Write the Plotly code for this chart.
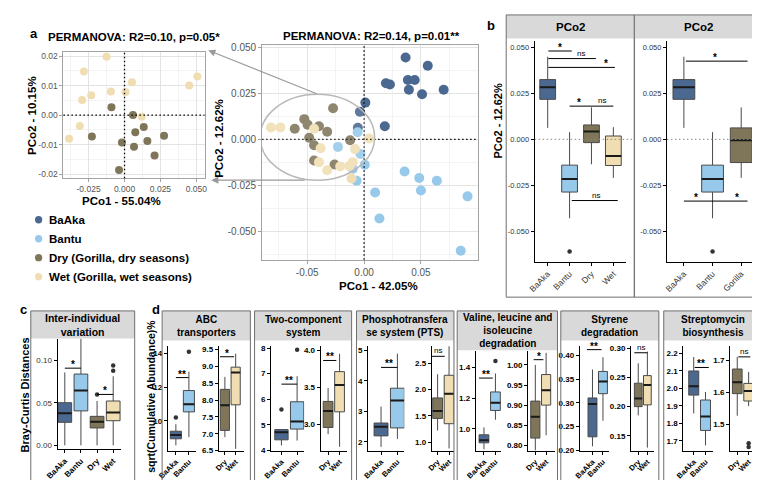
import plotly.graph_objects as go

W, H = 760, 480
FONT = "Liberation Sans, Arial, Helvetica, sans-serif"
BOX_LINE = "#4a4a4a"
COL = {"BaAka": "#4b6890", "Bantu": "#96c9ea", "Dry": "#7f765a",
       "Wet": "#f0deb2", "Gorilla": "#7f765a"}

# ---------------- data ----------------
legend_groups = ["BaAka", "Bantu", "Dry", "Wet"]
legend_labels = ["BaAka", "Bantu", "Dry (Gorilla, dry seasons)", "Wet (Gorilla, wet seasons)"]

# panel a (left): gorilla-only PCoA
gor_dry_pco1 = [-0.0091, 0.0059, 0.0134, 0.0075, 0.0275, -0.0227, -0.0018, 0.0159, 0.0066, 0.0209, -0.0038]
gor_dry_pco2 = [0.0027, 0.0000, -0.0040, -0.0058, -0.0070, -0.0073, -0.0093, -0.0088, -0.0107, -0.0137, -0.0186]
gor_wet_pco1 = [-0.0125, -0.0283, 0.0052, -0.0232, -0.0295, -0.0095, 0.0007, 0.0450, 0.0507, 0.0120, -0.0311, -0.0386]
gor_wet_pco2 = [0.0198, 0.0148, 0.0111, 0.0067, 0.0051, 0.0080, 0.0078, 0.0100, 0.0131, -0.0006, -0.0037, -0.0080]

# panel a (right): all samples PCoA
all_baaka_pco1 = [0.0365, 0.056, 0.0192, 0.0227, 0.0385, 0.0445, 0.0394, 0.051, 0.070, 0.0011, -0.0037, -0.0055, 0.0182]
all_baaka_pco2 = [0.0445, 0.040, 0.0305, 0.0298, 0.0323, 0.0323, 0.027, 0.0245, 0.027, 0.020, 0.015, 0.0063, 0.0071]
all_bantu_pco1 = [-0.0057, -0.023, -0.0032, 0.0006, -0.010, -0.0066, 0.0097, 0.0135, 0.0356, 0.0485, 0.050, 0.064, 0.091, 0.085]
all_bantu_pco2 = [0.0039, -0.0041, -0.008, -0.0138, -0.016, -0.0225, -0.0289, -0.043, -0.0175, -0.021, -0.0278, -0.0225, -0.031, -0.0606]
all_dry_pco1 = [-0.0273, -0.0526, -0.0497, -0.061, -0.0397, -0.0325, -0.0483, -0.044, -0.0123, -0.044, -0.026]
all_dry_pco2 = [0.0169, 0.011, 0.008, 0.0058, 0.0071, 0.0041, 0.0009, -0.0032, -0.0005, -0.0115, -0.0137]
all_wet_pco1 = [-0.0819, -0.0736, -0.044, -0.0382, 0.0043, -0.008, -0.0397, -0.0325, -0.021, -0.010, -0.0129, -0.011]
all_wet_pco2 = [0.0065, 0.0065, 0.0058, -0.0048, 0.0005, -0.0053, -0.0124, -0.0168, -0.0147, -0.0124, -0.0145, -0.0213]

# panel b (left facet): PCo2 by group
b1_groups = ["BaAka", "Bantu", "Dry", "Wet"]
b1_lo = [0.0062, -0.0428, -0.0135, -0.0209]
b1_q1 = [0.0217, -0.0286, -0.0018, -0.0142]
b1_med = [0.0283, -0.0215, 0.0043, -0.0091]
b1_q3 = [0.0324, -0.0140, 0.0078, 0.0018]
b1_hi = [0.0448, 0.0039, 0.0173, 0.0066]
b1_out = [[], [-0.0609], [], []]
b1_sig = [(1.03, 2.1, 0.0479, "*", 1.57), (1.03, 3.2, 0.0438, "ns", 2.5), (1.03, 4.07, 0.039, "*", 3.68),
          (2.0, 4.0, 0.0180, "*", 2.42), (2.0, 4.0, 0.0180, "ns", 3.5), (2.1, 4.2, -0.0332, "ns", 3.2)]

# panel b (right facet)
b2_groups = ["BaAka", "Bantu", "Gorilla"]
b2_lo = [0.0062, -0.0428, -0.0209]
b2_q1 = [0.0217, -0.0286, -0.0126]
b2_med = [0.0283, -0.0215, -0.0005]
b2_q3 = [0.0324, -0.0140, 0.0062]
b2_hi = [0.0448, 0.0039, 0.0173]
b2_out = [[], [-0.0609], []]
b2_sig = [(1.07, 3.22, 0.0424, "*", 2.09), (1.0, 3.22, -0.0335, "*", 1.43), (1.0, 3.22, -0.0335, "*", 2.86)]

# panel c: inter-individual Bray-Curtis distances
c_groups = ["BaAka", "Bantu", "Dry", "Wet"]
c_lo = [0.0, 0.0, 0.0, 0.0]
c_q1 = [0.027, 0.0404, 0.0204, 0.0289]
c_med = [0.0377, 0.0643, 0.0277, 0.0385]
c_q3 = [0.050, 0.0836, 0.034, 0.052]
c_hi = [0.0855, 0.135, 0.052, 0.081]
c_out = [[], [], [0.0597], [0.0874, 0.0935]]
c_sig = [(1, 2, 0.0905, "*", 1.5), (3, 4, 0.0597, "*", 3.5)]

# panel d: KEGG pathways, sqrt(cumulative abundance)
d_pathways = ["ABC<br>transporters", "Two-component<br>system", "Phosphotransfera<br>se system (PTS)",
              "Valine, leucine and<br>isoleucine<br>degradation", "Styrene<br>degradation",
              "Streptomycin<br>biosynthesis"]
d_hum_groups = ["BaAka", "Bantu"]
d_gor_groups = ["Dry", "Wet"]
d_hum_lo = [[8.54, 9.03], [4.19, 4.38], [1.84, 2.10], [0.868, 1.06], [0.208, 0.262], [1.857, 1.675]]
d_hum_q1 = [[8.93, 10.53], [4.41, 4.83], [2.20, 2.46], [0.910, 1.12], [0.228, 0.319], [1.962, 1.76]]
d_hum_med = [[9.16, 10.98], [4.71, 5.13], [2.50, 3.36], [0.926, 1.17], [0.297, 0.345], [2.013, 1.84]]
d_hum_q3 = [[9.38, 11.80], [4.81, 5.90], [2.62, 3.76], [0.962, 1.24], [0.310, 0.366], [2.10, 1.934]]
d_hum_hi = [[9.80, 12.92], [4.81, 6.90], [3.16, 4.89], [1.01, 1.36], [0.370, 0.396], [2.18, 1.98]]
d_hum_out = [[[10.2], [14.1]], [[5.6], [7.94]], [[], []], [[], [1.44]], [[], []], [[], []]]
d_gor_lo = [[6.90, 6.55], [2.87, 2.70], [1.22, 0.88], [0.787, 0.825], [0.185, 0.13], [1.526, 1.556]]
d_gor_q1 = [[7.10, 7.86], [2.96, 3.17], [1.45, 1.35], [0.818, 0.90], [0.200, 0.203], [1.595, 1.572]]
d_gor_med = [[7.85, 8.82], [3.18, 3.53], [1.59, 1.92], [0.871, 0.937], [0.214, 0.237], [1.631, 1.603]]
d_gor_q3 = [[8.32, 8.98], [3.31, 3.71], [1.84, 2.27], [0.91, 0.976], [0.240, 0.253], [1.672, 1.627]]
d_gor_hi = [[8.69, 9.38], [3.49, 3.95], [2.29, 2.85], [1.00, 1.03], [0.274, 0.294], [1.71, 1.663]]
d_gor_out = [[[], []], [[], []], [[], []], [[], []], [[], []], [[], [1.44, 1.428]]]
d_hum_sig = [(1.0, 1.98, 12.57, "**", 1.5), (1.0, 2.0, 6.59, "**", 1.5), (1.0, 2.0, 4.44, "**", 1.5),
             (0.57, 1.77, 1.33, "**", 1.15), (0.47, 1.87, 0.412, "**", 1.19), (1.08, 2.28, 2.12, "**", 1.64)]
d_gor_sig = [(0.55, 1.85, 9.29, "*", 1.18), (0.57, 1.72, 3.86, "**", 1.15), (0.34, 1.62, 2.63, "ns", 1.0),
             (0.85, 1.75, 1.013, "*", 1.3), (0.57, 2.0, 0.292, "ns", 1.25), (1.09, 2.15, 1.71, "ns", 1.63)]

# ---------------- helpers ----------------
traces, shapes, annots = [], [], []
layout = {}


def X(p):
    return p / W


def Y(p):
    return 1 - p / H


def ref(n, c):
    return c if n == 1 else f"{c}{n}"


def axkey(n, c):
    return f"{c}axis" if n == 1 else f"{c}axis{n}"


def set_axes(n, L, R, T, B, xr, yr, xkw, ykw):
    layout[axkey(n, "x")] = dict(domain=[L / W, R / W], range=xr, anchor=ref(n, "y"), **xkw)
    layout[axkey(n, "y")] = dict(domain=[1 - B / H, 1 - T / H], range=yr, anchor=ref(n, "x"), **ykw)


def fmt(vals, f):
    return [format(v, f) for v in vals]


def sc_axis(vals, f, minor_dtick, size):
    return dict(showline=True, mirror=True, linecolor="#a3a3a3", linewidth=1,
                showgrid=True, gridcolor="#e3e3e3", gridwidth=1,
                minor=dict(showgrid=True, gridcolor="#f3f3f3", dtick=minor_dtick, tick0=0),
                ticks="outside", ticklen=3, tickcolor="#a3a3a3", zeroline=False,
                tickmode="array", tickvals=vals, ticktext=fmt(vals, f),
                tickfont=dict(size=size, color="#555555", family=FONT))


def box_y(vals, f, size, bold, color="black"):
    return dict(showline=True, linecolor="black", linewidth=1, ticks="outside", ticklen=3,
                tickcolor="black", showgrid=False, zeroline=False, tickmode="array",
                tickvals=vals, ticktext=fmt(vals, f),
                tickfont=dict(size=size, color=color, family=FONT, weight="bold" if bold else "normal"))


def box_x(names, size, bold, color="black"):
    return dict(showline=True, linecolor="black", linewidth=1, ticks="outside", ticklen=3,
                tickcolor="black", showgrid=False, zeroline=False, tickmode="array",
                tickvals=list(range(1, len(names) + 1)), ticktext=names, tickangle=-45,
                tickfont=dict(size=size, color=color, family=FONT, weight="bold" if bold else "normal"))


def add_boxes(n, groups, lo, q1, med, q3, hi, out, width):
    mx, my, ox, oy = [], [], [], []
    for i, g in enumerate(groups):
        pos = i + 1
        traces.append(go.Box(x=[pos], lowerfence=[lo[i]], q1=[q1[i]], median=[med[i]], q3=[q3[i]],
                             upperfence=[hi[i]], width=width, fillcolor=COL[g], orientation="v",
                             line=dict(color=BOX_LINE, width=1), whiskerwidth=0, boxpoints=False,
                             showlegend=False, hoverinfo="skip",
                             xaxis=ref(n, "x"), yaxis=ref(n, "y")))
        mx += [pos - width / 2, pos + width / 2, None]
        my += [med[i], med[i], None]
        for v in out[i]:
            ox.append(pos)
            oy.append(v)
    traces.append(go.Scatter(x=mx, y=my, mode="lines", line=dict(color="#1a1a1a", width=2),
                             showlegend=False, hoverinfo="skip", xaxis=ref(n, "x"), yaxis=ref(n, "y")))
    if ox:
        traces.append(go.Scatter(x=ox, y=oy, mode="markers", marker=dict(color="#333333", size=4.5),
                                 showlegend=False, hoverinfo="skip", xaxis=ref(n, "x"), yaxis=ref(n, "y")))


def sig_label(n, lx, yv, label):
    star = label != "ns"
    annots.append(dict(text=label, xref=ref(n, "x"), yref=ref(n, "y"), x=lx, y=yv, showarrow=False,
                       yanchor="bottom", yshift=-4 if star else -1,
                       font=dict(size=10 if star else 8, color="black", family=FONT,
                                 weight="bold" if star else "normal")))


def add_sig(n, x0, x1, yv, label, lx):
    shapes.append(dict(type="line", xref=ref(n, "x"), yref=ref(n, "y"), x0=x0, x1=x1, y0=yv, y1=yv,
                       line=dict(color="black", width=1)))
    sig_label(n, lx, yv, label)


def text(t, x, y, size, bold=True, angle=0, xanchor="center", yanchor="middle", color="black"):
    annots.append(dict(text=t, x=X(x), y=Y(y), xref="paper", yref="paper", showarrow=False,
                       textangle=angle, xanchor=xanchor, yanchor=yanchor,
                       font=dict(size=size, color=color, family=FONT, weight="bold" if bold else "normal")))


def rect(L, T, R, B, fill=None, line=None):
    shapes.append(dict(type="rect", xref="paper", yref="paper", x0=X(L), x1=X(R), y0=Y(B), y1=Y(T),
                       fillcolor=fill or "rgba(0,0,0,0)",
                       line=dict(color=line or "rgba(0,0,0,0)", width=1 if line else 0), layer="above"))


DOT = "1.5px,2.5px"

# ---------------- panel a ----------------
set_axes(1, 44.3, 188.3, 41.7, 170, [-0.0425, 0.0557], [-0.0214, 0.0214],
         sc_axis([-0.025, 0.0, 0.025, 0.05], ".3f", 0.0125, 8.5),
         sc_axis([-0.02, -0.01, 0.0, 0.01, 0.02], ".2f", 0.005, 8.5))
set_axes(2, 247, 467, 35, 253, [-0.0897, 0.1], [-0.0655, 0.0511],
         sc_axis([-0.05, 0.0, 0.05], ".2f", 0.025, 10),
         sc_axis([-0.05, -0.025, 0.0, 0.025, 0.05], ".3f", 0.0125, 10))

for xs, ys, g in [(gor_dry_pco1, gor_dry_pco2, "Dry"), (gor_wet_pco1, gor_wet_pco2, "Wet")]:
    traces.append(go.Scatter(x=xs, y=ys, mode="markers", marker=dict(size=8, color=COL[g]),
                             showlegend=False, hoverinfo="skip", xaxis="x", yaxis="y"))
for xs, ys, g in [(all_baaka_pco1, all_baaka_pco2, "BaAka"), (all_bantu_pco1, all_bantu_pco2, "Bantu"),
                  (all_dry_pco1, all_dry_pco2, "Dry"), (all_wet_pco1, all_wet_pco2, "Wet")]:
    traces.append(go.Scatter(x=xs, y=ys, mode="markers", marker=dict(size=10, color=COL[g]),
                             showlegend=False, hoverinfo="skip", xaxis="x2", yaxis="y2"))

for n in (1, 2):
    shapes.append(dict(type="line", xref=ref(n, "x"), yref=f"{ref(n, 'y')} domain", x0=0, x1=0, y0=0, y1=1,
                       line=dict(color="black", width=1.3, dash=DOT)))
    shapes.append(dict(type="line", xref=f"{ref(n, 'x')} domain", yref=ref(n, "y"), x0=0, x1=1, y0=0, y1=0,
                       line=dict(color="black", width=1.3, dash=DOT)))
shapes.append(dict(type="circle", xref="x2", yref="y2", x0=-0.0914, x1=0.0092, y0=-0.0222, y1=0.0245,
                   line=dict(color="#b8b8b8", width=1.5), fillcolor="rgba(255,255,255,0.12)", layer="above"))
annots.append(dict(x=X(192), y=Y(40), xref="paper", yref="paper", text="", showarrow=True,
                   ax=110, ay=44, arrowhead=2, arrowsize=1.2, arrowwidth=1.2, arrowcolor="#9a9a9a"))
annots.append(dict(x=X(195), y=Y(172), xref="paper", yref="paper", text="", showarrow=True,
                   ax=95, ay=0, arrowhead=2, arrowsize=1.2, arrowwidth=1.2, arrowcolor="#9a9a9a"))

# manual legend (group colours + labels)
for i, (g, lab) in enumerate(zip(legend_groups, legend_labels)):
    yc = 212.3 + i * 19.3
    shapes.append(dict(type="circle", xref="paper", yref="paper", x0=X(15.3), x1=X(22.7),
                       y0=Y(yc + 3.7), y1=Y(yc - 3.7), fillcolor=COL[g], line=dict(width=0)))
    text(lab, 28, yc, 11.5, xanchor="left")

text("a", 14, 23, 13)
text("PERMANOVA: R2=0.10, p=0.05*", 116, 26, 11.5)
text("PERMANOVA: R2=0.14, p=0.01**", 359, 25, 11.5)
text("PCo1 - 55.04%", 104, 193, 11.5)
text("PCo2 - 10.15%", 12, 106, 11.5, angle=-90)
text("PCo1 - 42.05%", 366, 280, 11.5)
text("PCo2 - 12.62%", 203, 129, 11.5, angle=-90)

# ---------------- panel b ----------------
b_yt = [-0.05, -0.025, 0.0, 0.025, 0.05]
set_axes(3, 525, 617.7, 30, 255, [0.404, 4.555], [-0.0664, 0.0536],
         box_x(b1_groups, 8.5, False, "#333333"), box_y(b_yt, ".3f", 7.5, False, "#333333"))
set_axes(4, 660, 752.7, 30, 255, [0.41, 3.58], [-0.0664, 0.0536],
         box_x(b2_groups, 8.5, False, "#333333"), box_y(b_yt, ".3f", 7.5, False, "#333333"))
for n, L, R in [(3, 525, 626.7), (4, 660, 757)]:
    shapes.append(dict(type="line", xref="paper", yref=ref(n, "y"), x0=X(L), x1=X(R), y0=0, y1=0,
                       line=dict(color="#8a8a8a", width=1, dash=DOT)))
add_boxes(3, b1_groups, b1_lo, b1_q1, b1_med, b1_q3, b1_hi, b1_out, 0.72)
add_boxes(4, b2_groups, b2_lo, b2_q1, b2_med, b2_q3, b2_hi, b2_out, 0.76)
for n, sigs in [(3, b1_sig), (4, b2_sig)]:
    seen = set()
    for s in sigs:
        key = (s[0], s[1], s[2])
        if key in seen:
            sig_label(n, s[4], s[2], s[3])
        else:
            seen.add(key)
            add_sig(n, *s)
for L, R in [(496, 626.7), (626.7, 757)]:
    rect(L, 4, R, 28, fill="#d9d9d9")
    rect(L, 4, R, 291, line="#6f6f6f")
    text("PCo2", (L + R) / 2, 16, 11.5)
text("b", 480, 15, 13)
text("PCo2 - 12.62%", 488, 112, 11, angle=-90)

# ---------------- panel c ----------------
set_axes(5, 38.3, 103.3, 333.3, 445.7, [0.55, 4.5], [-0.0046, 0.125],
         box_x(c_groups, 8, True), box_y([0.0, 0.05, 0.10], ".2f", 8, False, "#333333"))
add_boxes(5, c_groups, c_lo, c_q1, c_med, c_q3, c_hi, c_out, 0.85)
for s in c_sig:
    add_sig(5, *s)
rect(11, 305, 117, 333, fill="#d9d9d9")
rect(11, 305, 117, 478, line="#6f6f6f")
text("Inter-individual<br>variation", 64, 319, 10.5)
text("c", 4, 304, 13)
text("Bray-Curtis Distances", 5, 390, 11, angle=-90)

# ---------------- panel d ----------------
d_geom = [
    (145, 235, 335, 341, (150.7, 180, 159, 172.3), (202.7, 228, 209, 220)),
    (239.3, 338.3, 335, 341, (256, 290, 266.7, 282.7), (306.7, 334, 314.3, 326)),
    (343.3, 442.7, 335, 341, (355, 392, 368.3, 385), (420, 443, 426, 437.7)),
    (446, 548.3, 345, 346, (465, 491, 473.3, 485), (518.3, 546, 525.7, 536.7)),
    (551.7, 651.7, 335, 341, (571, 601, 584, 594.7), (623.3, 647, 630.7, 640)),
    (656.7, 758, 335, 341, (676.7, 707, 687.3, 699.3), (724.3, 751, 731.7, 743.3)),
]
d_hum_yrange = [[8.23, 14.43], [3.99, 8.07], [1.72, 5.13], [0.86, 1.504], [0.199, 0.419], [1.645, 2.241]]
d_gor_yrange = [[6.5, 9.6], [2.65, 4.05], [0.84, 2.82], [0.787, 1.034], [0.125, 0.303], [1.417, 1.743]]
d_hum_yticks = [[10, 12, 14], [4, 5, 6, 7, 8], [2, 3, 4, 5], [1.0, 1.2, 1.4],
                [0.20, 0.25, 0.30, 0.35, 0.40], [1.7, 1.8, 1.9, 2.0, 2.1, 2.2]]
d_hum_yfmt = [".0f", ".0f", ".0f", ".1f", ".2f", ".1f"]
d_gor_yticks = [[6.5, 7.0, 7.5, 8.0, 8.5, 9.0, 9.5], [3.0, 3.5, 4.0], [1.0, 1.5, 2.0, 2.5],
                [0.80, 0.85, 0.90, 0.95, 1.00], [0.15, 0.20, 0.25, 0.30], [1.5, 1.6, 1.7]]
d_gor_yfmt = [".1f", ".1f", ".1f", ".2f", ".2f", ".1f"]


def xr_from(L, R, p1, p2):
    s = p2 - p1
    return [1 - (p1 - L) / s, 2 + (R - p2) / s]


n = 6
for k, (PL, PR, SB, PT, hg, gg) in enumerate(d_geom):
    for geom, yr, yt, yf, grp, lo, q1, med, q3, hi, out, sig in [
        (hg, d_hum_yrange[k], d_hum_yticks[k], d_hum_yfmt[k], d_hum_groups, d_hum_lo[k], d_hum_q1[k],
         d_hum_med[k], d_hum_q3[k], d_hum_hi[k], d_hum_out[k], d_hum_sig[k]),
        (gg, d_gor_yrange[k], d_gor_yticks[k], d_gor_yfmt[k], d_gor_groups, d_gor_lo[k], d_gor_q1[k],
         d_gor_med[k], d_gor_q3[k], d_gor_hi[k], d_gor_out[k], d_gor_sig[k])]:
        L, R, p1, p2 = geom
        set_axes(n, L, R, PT, 447, xr_from(L, R, p1, p2), yr,
                 box_x(grp, 7.5, True), box_y(yt, yf, 8, True))
        add_boxes(n, grp, lo, q1, med, q3, hi, out, 0.85)
        add_sig(n, *sig)
        n += 1
    rect(PL, 305, PR, SB, fill="#d9d9d9")
    rect(PL, 305, PR, 478, line="#6f6f6f")
    text(d_pathways[k], (PL + PR) / 2, (305 + SB) / 2, 10)
text("d", 139, 304, 13)
text("sqrt(Cumulative Abundance)%", 134, 392, 10.5, angle=-90)

layout.update(dict(
    width=W, height=H, margin=dict(l=0, r=0, t=0, b=0),
    paper_bgcolor="white", plot_bgcolor="rgba(0,0,0,0)",
    font=dict(family=FONT, color="black"),
    boxmode="overlay", showlegend=False,
    shapes=shapes, annotations=annots,
))

fig = go.Figure(data=traces, layout=layout)
fig.write_html("out.html")
